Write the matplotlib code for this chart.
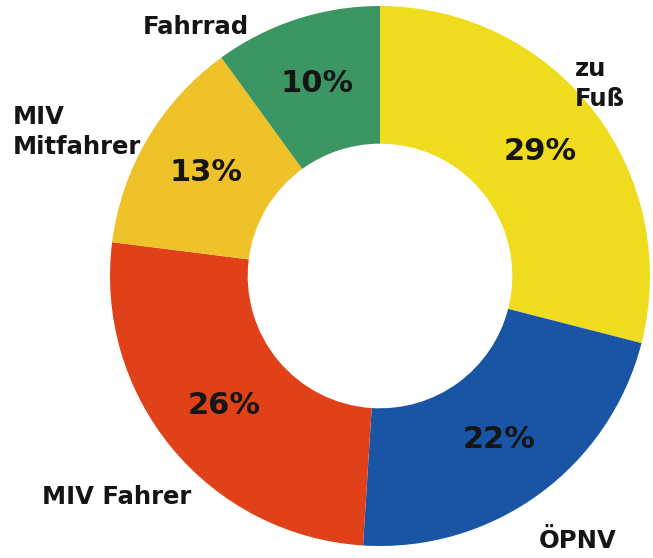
import matplotlib.pyplot as plt

# Anteile in Prozent, im Uhrzeigersinn ab 12 Uhr
kategorien = ['zu\nFuß', 'ÖPNV', 'MIV Fahrer', 'MIV\nMitfahrer', 'Fahrrad']
anteile = [29, 22, 26, 13, 10]
farben = ['#efdc1e', '#1a55a5', '#e04119', '#f0c22a', '#3c9664']

# Beschriftungspositionen (Pixel, y von oben) und Ausrichtung
label_pos = [(575, 84), (578, 541), (117, 497), (13, 132), (196, 27)]
label_ha = ['left', 'center', 'center', 'left', 'center']

W, H = 653, 558
fig = plt.figure(figsize=(W / 100, H / 100), dpi=100)
ax = fig.add_axes([0, 0, 1, 1])

wedges, texts, autotexts = ax.pie(
    anteile, colors=farben, startangle=90, counterclock=False,
    center=(380, H - 276), radius=270,
    wedgeprops=dict(width=270 * 0.51, linewidth=0),
    autopct='%d%%', pctdistance=0.75,
    textprops=dict(fontsize=22, fontweight='bold', color='#151515'),
    frame=True,
)
ax.set_xlim(0, W)
ax.set_ylim(0, H)
ax.set_aspect('equal')
ax.axis('off')

for name, (x, y), ha in zip(kategorien, label_pos, label_ha):
    ax.text(x, H - y, name, ha=ha, va='center', fontsize=17.5,
            fontweight='bold', color='#151515', linespacing=1.35)

fig.savefig('out.png', dpi=100, facecolor='white')
